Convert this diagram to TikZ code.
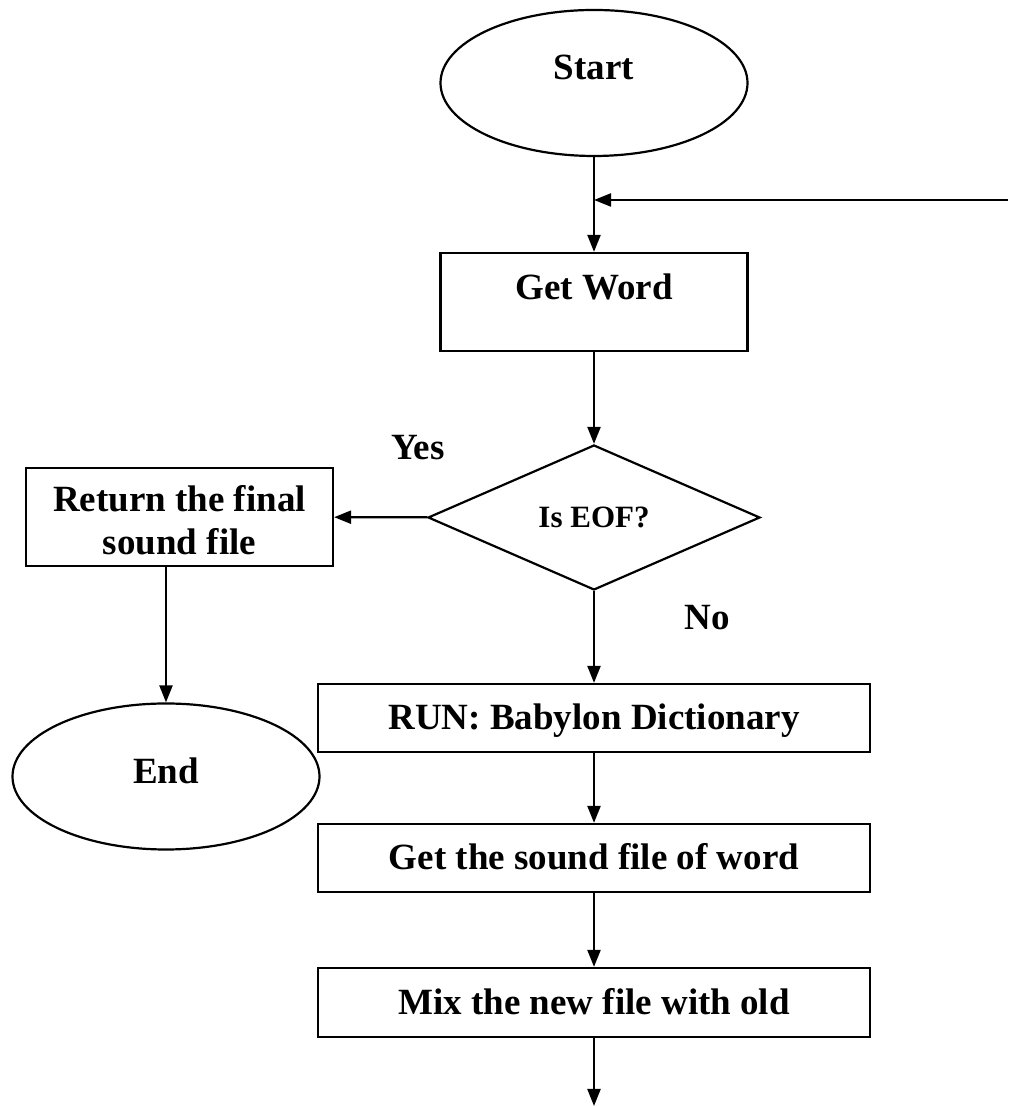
\documentclass[tikz,border=0pt]{standalone}
\usepackage{fontspec}
\setmainfont{Liberation Serif}
\usetikzlibrary{shapes.geometric, arrows.meta}

\begin{document}
\begin{tikzpicture}[x=1pt, y=1pt, >={Triangle[length=17pt, width=13pt]}, line width=2.2pt,
	every node/.style={font=\fontsize{37}{43}\selectfont\bfseries},
	term/.style={draw, ellipse, inner sep=0pt, minimum width=307pt, minimum height=146pt, text height=26pt},
	proc/.style={draw, rectangle, inner sep=0pt, minimum width=552pt, minimum height=68pt, text height=25pt, text depth=1pt},
	decide/.style={draw, diamond, inner sep=0pt, minimum width=332pt, minimum height=145pt, font=\fontsize{31}{36}\selectfont\bfseries}]
	\useasboundingbox (0,0) rectangle (1011,1107);
	
	% 流程节点
	\node[term, text depth=32pt] (start) at (594, 1024) {Start};
	\node[proc, minimum width=307pt, minimum height=98pt, text height=26pt, text depth=30pt] (word) at (594, 805) {Get Word};
	\node[decide] (eof) at (594, 589.5) {Is EOF?};
	\node[proc, align=center, minimum width=307pt, minimum height=98pt, text height=76pt, text depth=0pt] (ret) at (179.5, 590) {Return the final\\sound file};
	\node[term, text depth=12pt] (end) at (166, 330.5) {End};
	\node[proc] (run) at (594, 389) {RUN: Babylon Dictionary};
	\node[proc] (snd) at (594, 249) {Get the sound file of word};
	\node[proc, minimum height=69pt] (mix) at (594, 104.5) {Mix the new file with old};
	
	% 分支标注
	\node (yes) at (418, 659) {Yes};
	\node (no) at (707, 489) {No};
	
	% 连线
	\coordinate (loop) at (1008, 907);
	\coordinate (out) at (594, 1);
	\draw[->] (start) -- (word);
	\draw[->] (loop) -- (loop -| start);
	\draw[->] (word) -- (eof);
	\draw[->] (eof) -- (ret);
	\draw[->] (end.north |- ret.south) -- (end);
	\draw[->] (eof) -- (run);
	\draw[->] (run) -- (snd);
	\draw[->] (snd) -- (mix);
	\draw[->] (mix) -- (out);
\end{tikzpicture}
\end{document}
